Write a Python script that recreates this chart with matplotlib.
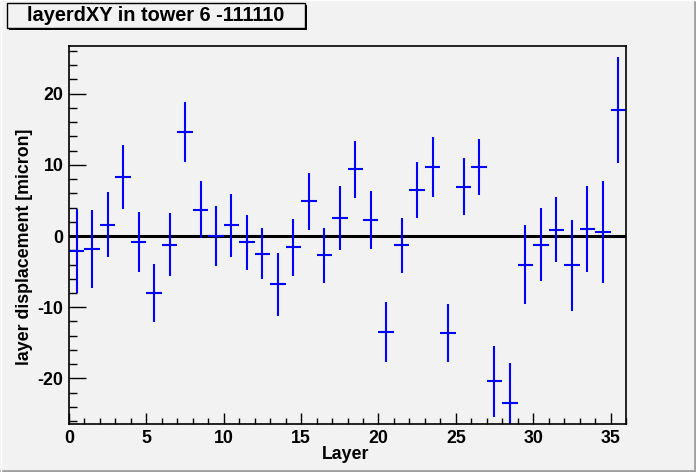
import numpy as np
import matplotlib
import matplotlib.pyplot as plt
from matplotlib.patches import Rectangle
from matplotlib.lines import Line2D
from matplotlib.ticker import MultipleLocator

matplotlib.use("Agg")
plt.rcParams["axes.unicode_minus"] = False

# layer index (bin centres) and measured displacement with errors
layers = np.arange(36) + 0.5
disp = [-2.1, -1.8, 1.6, 8.3, -0.8, -8.0, -1.2, 14.6, 3.7, 0.0,
        1.5, -0.9, -2.5, -6.8, -1.6, 4.9, -2.7, 2.6, 9.4, 2.3,
        -13.5, -1.3, 6.5, 9.7, -13.6, 6.9, 9.7, -20.4, -23.5, -4.0,
        -1.2, 0.9, -4.1, 1.0, 0.6, 17.7]
err = [5.9, 5.5, 4.6, 4.5, 4.2, 4.1, 4.4, 4.2, 4.0, 4.2,
       4.4, 3.8, 3.6, 4.4, 4.0, 4.0, 3.9, 4.5, 4.0, 4.1,
       4.2, 3.9, 3.9, 4.2, 4.1, 4.0, 4.0, 5.0, 5.6, 5.5,
       5.1, 4.6, 6.4, 6.0, 7.2, 7.4]

title = "layerdXY in tower 6 -111110"
bg = "#f2f2f2"
font = "Liberation Sans"

fig = plt.figure(figsize=(6.96, 4.72), dpi=100, facecolor=bg)
ax = fig.add_axes([69 / 696, 1 - 424 / 472, 557 / 696, 378 / 472])
ax.set_facecolor(bg)

ax.axhline(0, color="black", lw=2.2, zorder=1)
ax.errorbar(layers, disp, yerr=err, xerr=0.5, fmt="none", ecolor="#0000ff",
            elinewidth=1.5, capsize=0, zorder=2)

ax.set_xlim(0, 36)
ax.set_ylim(-26.4, 26.7)
ax.xaxis.set_major_locator(MultipleLocator(5))
ax.xaxis.set_minor_locator(MultipleLocator(1))
ax.yaxis.set_major_locator(MultipleLocator(10))
ax.yaxis.set_minor_locator(MultipleLocator(2))
ax.tick_params(axis="x", which="major", direction="in", length=8, width=1, pad=4)
ax.tick_params(axis="x", which="minor", direction="in", length=4, width=1)
ax.tick_params(axis="y", which="major", direction="in", length=12.5, width=1, pad=4)
ax.tick_params(axis="y", which="minor", direction="in", length=6, width=1)
for lab in ax.get_xticklabels() + ax.get_yticklabels():
    lab.set_fontfamily(font)
    lab.set_fontweight("bold")
    lab.set_fontsize(12.8)
for s in ax.spines.values():
    s.set_linewidth(1.2)

ax.set_xlabel("Layer", fontfamily=font, fontweight="bold", fontsize=12.8, va="top")
ax.xaxis.set_label_coords(0.4964, -0.058)
ax.set_ylabel("layer displacement [micron]", fontfamily=font, fontweight="bold",
              fontsize=12.8, va="center")
ax.yaxis.set_label_coords(-0.079, 0.4696)

# title box with shadow
bx, by, bw, bh = 7 / 696, 1 - 28 / 472, 298 / 696, 25 / 472
fig.add_artist(Rectangle((bx + 2 / 696, by - 2 / 472), bw, bh, transform=fig.transFigure,
                         fc="black", ec="none"))
fig.add_artist(Rectangle((bx, by), bw, bh, transform=fig.transFigure,
                         fc=bg, ec="black", lw=1))
fig.text(bx + bw / 2, by + bh / 2, title, ha="center", va="center",
         fontfamily=font, fontweight="bold", fontsize=14.4)

# canvas border
fig.add_artist(Line2D([0, 1], [0.002, 0.002], transform=fig.transFigure, color="#a0a0a0", lw=2))
fig.add_artist(Line2D([0.998, 0.998], [0, 1], transform=fig.transFigure, color="#a0a0a0", lw=2))
fig.add_artist(Line2D([0, 1], [0.999, 0.999], transform=fig.transFigure, color="white", lw=1))
fig.add_artist(Line2D([0.001, 0.001], [0, 1], transform=fig.transFigure, color="white", lw=1))

plt.savefig("out.png", dpi=100, facecolor=bg)
plt.close()
